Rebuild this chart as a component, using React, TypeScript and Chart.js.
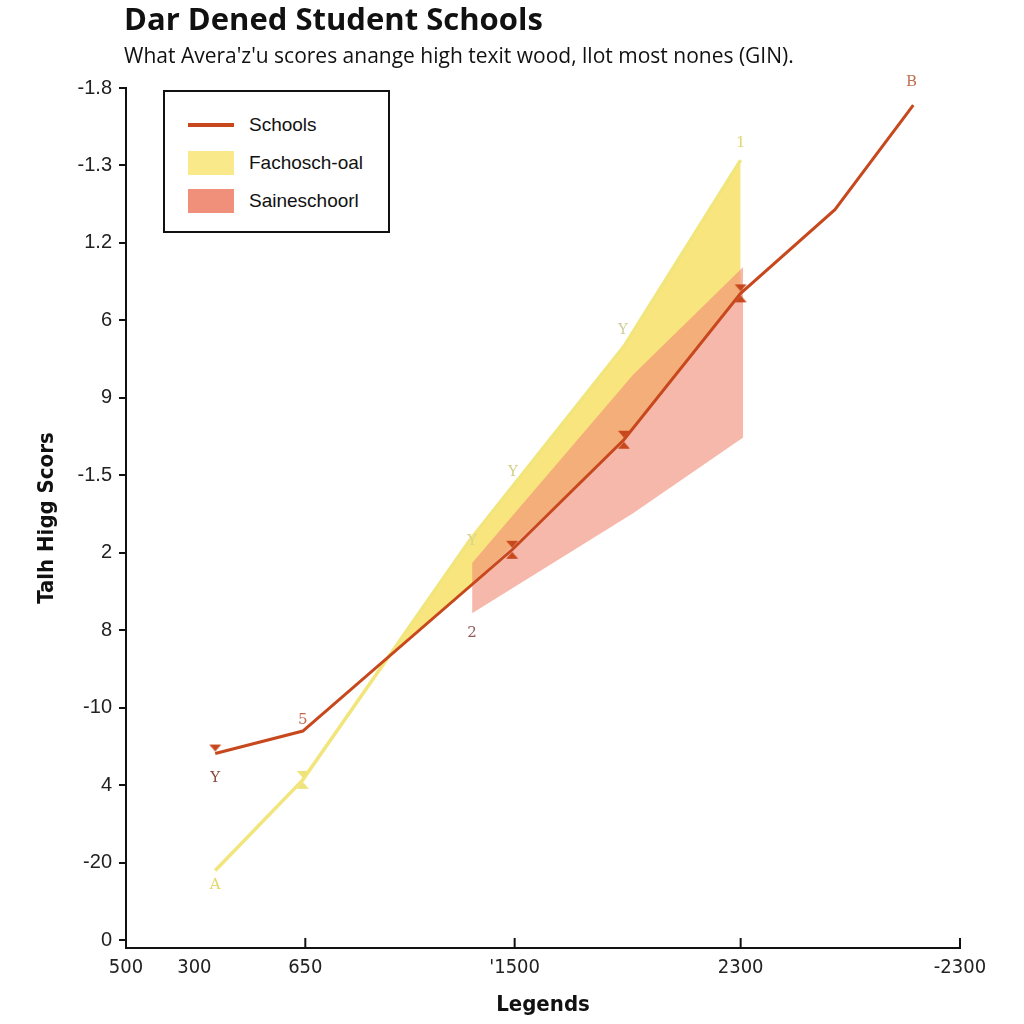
import React, { useEffect, useRef } from "react";
import { Chart, registerables } from "chart.js";

Chart.register(...registerables);

// ---- data ----
const xTickValues = [0, 8.2, 21.5, 46.6, 73.7, 100];
const xTickLabels = ["500", "300", "650", "'1500", "2300", "-2300"];
const xTickMarks = [21.5, 46.6, 73.7, 100];

const yTickValues = [0, 1, 2, 3, 4, 5, 6, 7, 8, 9, 10, 11];
const yTickLabels = ["0", "-20", "4", "-10", "8", "2", "-1.5", "9", "6", "1.2", "-1.3", "-1.8"];

const schoolsX = [10.7, 21.2, 46.3, 59.7, 73.7, 85.0, 94.4];
const schoolsY = [2.41, 2.7, 5.04, 6.46, 8.35, 9.43, 10.78];

const yellowX = [10.7, 21.2, 41.2, 59.8, 73.7];
const yellowY = [0.9, 2.07, 5.16, 7.68, 10.07];

const yellowBandX = [32.3, 41.2, 59.8, 73.7];
const yellowBandHigh = [3.75, 5.16, 7.68, 10.07];
const yellowBandLow = [3.75, 4.57, 6.46, 8.35];

const pinkBandX = [41.5, 60.8, 74.0];
const pinkBandHigh = [4.87, 7.3, 8.69];
const pinkBandLow = [4.22, 5.51, 6.49];

const pointNotes = [
  { text: "Y", x: 10.7, y: 2.09, color: "#8b4a3a" },
  { text: "5", x: 21.2, y: 2.84, color: "#c06a4a" },
  { text: "A", x: 10.7, y: 0.71, color: "#e2d868" },
  { text: "Y", x: 41.5, y: 5.15, color: "#d9d48a" },
  { text: "Y", x: 46.4, y: 6.04, color: "#d4d08a" },
  { text: "Y", x: 59.6, y: 7.87, color: "#cfcf9a" },
  { text: "1", x: 73.7, y: 10.29, color: "#e0d870" },
  { text: "2", x: 41.5, y: 3.96, color: "#8e5a5a" },
  { text: "B", x: 94.2, y: 11.07, color: "#c07050" },
];

const legendItems = [
  { label: "Schools", kind: "line", color: "#c8481e" },
  { label: "Fachosch-oal", kind: "box", color: "#f9e98a" },
  { label: "Saineschoorl", kind: "box", color: "#f0907a" },
];

const toXY = (xs: number[], ys: number[]) => xs.map((x, i) => ({ x, y: ys[i] }));

function makeMarker(color: string, top: boolean, bottom: boolean) {
  const c = document.createElement("canvas");
  c.width = 14;
  c.height = 20;
  const g = c.getContext("2d")!;
  g.fillStyle = color;
  if (top) {
    g.beginPath();
    g.moveTo(1, 1);
    g.lineTo(13, 1);
    g.lineTo(7, 8);
    g.closePath();
    g.fill();
  }
  if (bottom) {
    g.beginPath();
    g.moveTo(1, 19);
    g.lineTo(13, 19);
    g.lineTo(7, 12);
    g.closePath();
    g.fill();
  }
  return c;
}

export default function App() {
  const ref = useRef<HTMLCanvasElement | null>(null);

  useEffect(() => {
    if (!ref.current) return;
    const hg = makeMarker("#c8481e", true, true);
    const down = makeMarker("#c8481e", true, false);
    const yhg = makeMarker("#eee27a", true, true);

    const notesPlugin = {
      id: "notes",
      afterDatasetsDraw(chart: any) {
        const { ctx, scales } = chart;
        ctx.save();
        ctx.font = "15px 'DejaVu Serif', 'Liberation Serif', serif";
        ctx.textAlign = "center";
        ctx.textBaseline = "middle";
        pointNotes.forEach((n) => {
          ctx.fillStyle = n.color;
          ctx.fillText(n.text, scales.x.getPixelForValue(n.x), scales.y.getPixelForValue(n.y));
        });
        // inward x tick marks
        ctx.strokeStyle = "#111";
        ctx.lineWidth = 2;
        const yb = scales.y.getPixelForValue(scales.y.min);
        xTickMarks.forEach((v) => {
          const px = scales.x.getPixelForValue(v);
          ctx.beginPath();
          ctx.moveTo(px, yb);
          ctx.lineTo(px, yb - 10);
          ctx.stroke();
        });
        ctx.restore();
      },
    };

    const chart = new Chart(ref.current, {
      type: "line",
      data: {
        datasets: [
          {
            label: "Schools",
            data: toXY(schoolsX, schoolsY),
            borderColor: "#c8481e",
            borderWidth: 3,
            fill: false,
            pointStyle: [down, false, hg, hg, hg, false, false] as any,
            pointRadius: [7, 0, 7, 7, 7, 0, 0],
          },
          {
            label: "Fachosch-oal line",
            data: toXY(yellowX, yellowY),
            borderColor: "#f1e57c",
            borderWidth: 3.5,
            fill: false,
            pointStyle: [false, yhg, false, false, false] as any,
            pointRadius: [0, 7, 0, 0, 0],
          },
          {
            label: "Saineschoorl",
            data: toXY(pinkBandX, pinkBandHigh),
            borderWidth: 0,
            pointRadius: 0,
            backgroundColor: "rgba(240,140,118,0.62)",
            fill: "+1",
          },
          {
            label: "Saineschoorl low",
            data: toXY(pinkBandX, pinkBandLow),
            borderWidth: 0,
            pointRadius: 0,
            fill: false,
          },
          {
            label: "Fachosch-oal",
            data: toXY(yellowBandX, yellowBandHigh),
            borderWidth: 0,
            pointRadius: 0,
            backgroundColor: "#f9e57e",
            fill: "+1",
          },
          {
            label: "Fachosch-oal low",
            data: toXY(yellowBandX, yellowBandLow),
            borderWidth: 0,
            pointRadius: 0,
            fill: false,
          },
        ],
      },
      options: {
        animation: false,
        responsive: false,
        maintainAspectRatio: false,
        layout: { padding: { top: 88, right: 64, left: 0, bottom: 0 } },
        plugins: {
          legend: { display: false },
          tooltip: { enabled: false },
        },
        elements: { line: { tension: 0 } },
        scales: {
          x: {
            type: "linear",
            min: 0,
            max: 100,
            afterBuildTicks: (s: any) => {
              s.ticks = xTickValues.map((v) => ({ value: v }));
            },
            afterFit: (s: any) => {
              s.height = 76;
            },
            ticks: {
              autoSkip: false,
              maxRotation: 0,
              padding: 8,
              color: "#222",
              font: { family: "'Liberation Sans Narrow', 'DejaVu Sans Condensed', 'Liberation Sans', sans-serif", size: 20 },
              callback: (_v: any, i: number) => xTickLabels[i],
            },
            grid: { display: false, drawTicks: false },
            border: { display: true, color: "#111", width: 2 },
            title: {
              display: true,
              text: "Legends",
              color: "#111",
              font: { family: "'Liberation Sans Narrow', 'DejaVu Sans Condensed', 'Liberation Sans', sans-serif", size: 22, weight: "bold" },
              padding: { top: 0, bottom: 6 },
            },
          },
          y: {
            type: "linear",
            min: -0.1,
            max: 11,
            afterBuildTicks: (s: any) => {
              s.ticks = yTickValues.map((v) => ({ value: v }));
            },
            afterFit: (s: any) => {
              s.width = 126;
            },
            ticks: {
              autoSkip: false,
              padding: 7,
              color: "#222",
              font: { family: "'Liberation Sans', Arial, sans-serif", size: 20 },
              callback: (_v: any, i: number) => yTickLabels[i],
            },
            grid: { display: true, drawOnChartArea: false, drawTicks: true, tickLength: 7, color: "#111", lineWidth: 2 },
            border: { display: true, color: "#111", width: 2 },
            title: {
              display: true,
              text: "Talh Higg Scors",
              color: "#111",
              font: { family: "'Liberation Sans Narrow', 'DejaVu Sans Condensed', 'Liberation Sans', sans-serif", size: 22, weight: "bold" },
              padding: { top: 34, bottom: 0 },
            },
          },
        },
      },
      plugins: [notesPlugin],
    } as any);
    return () => chart.destroy();
  }, []);

  return (
    <div style={{ position: "fixed", left: 0, top: 0, width: 1024, height: 1024, background: "#fff", fontFamily: "'Open Sans', sans-serif" }}>
      <canvas ref={ref} width={1024} height={1024} style={{ position: "absolute", left: 0, top: 0, width: 1024, height: 1024 }} />
      <div style={{ position: "absolute", left: 124, top: -2, fontSize: 31, fontWeight: 700, color: "#111", lineHeight: "40px", whiteSpace: "nowrap" }}>
        Dar Dened Student Schools
      </div>
      <div style={{ position: "absolute", left: 124, top: 40, fontSize: 21, color: "#111", lineHeight: "30px", whiteSpace: "nowrap" }}>
        What Avera'z'u scores anange high texit wood, llot most nones (GIN).
      </div>
      <div
        style={{
          position: "absolute",
          left: 163,
          top: 90,
          width: 227,
          height: 143,
          boxSizing: "border-box",
          border: "2px solid #111",
          background: "#fff",
          fontFamily: "'Liberation Sans', Arial, sans-serif",
          fontSize: 19,
          color: "#111",
        }}
      >
        {legendItems.map((it, i) => (
          <div key={i} style={{ position: "absolute", left: 23, top: 20 + i * 38, height: 26, display: "flex", alignItems: "center" }}>
            <div
              style={{
                width: 46,
                height: it.kind === "line" ? 4 : 24,
                background: it.color,
                marginRight: 15,
              }}
            />
            <span>{it.label}</span>
          </div>
        ))}
      </div>
    </div>
  );
}
